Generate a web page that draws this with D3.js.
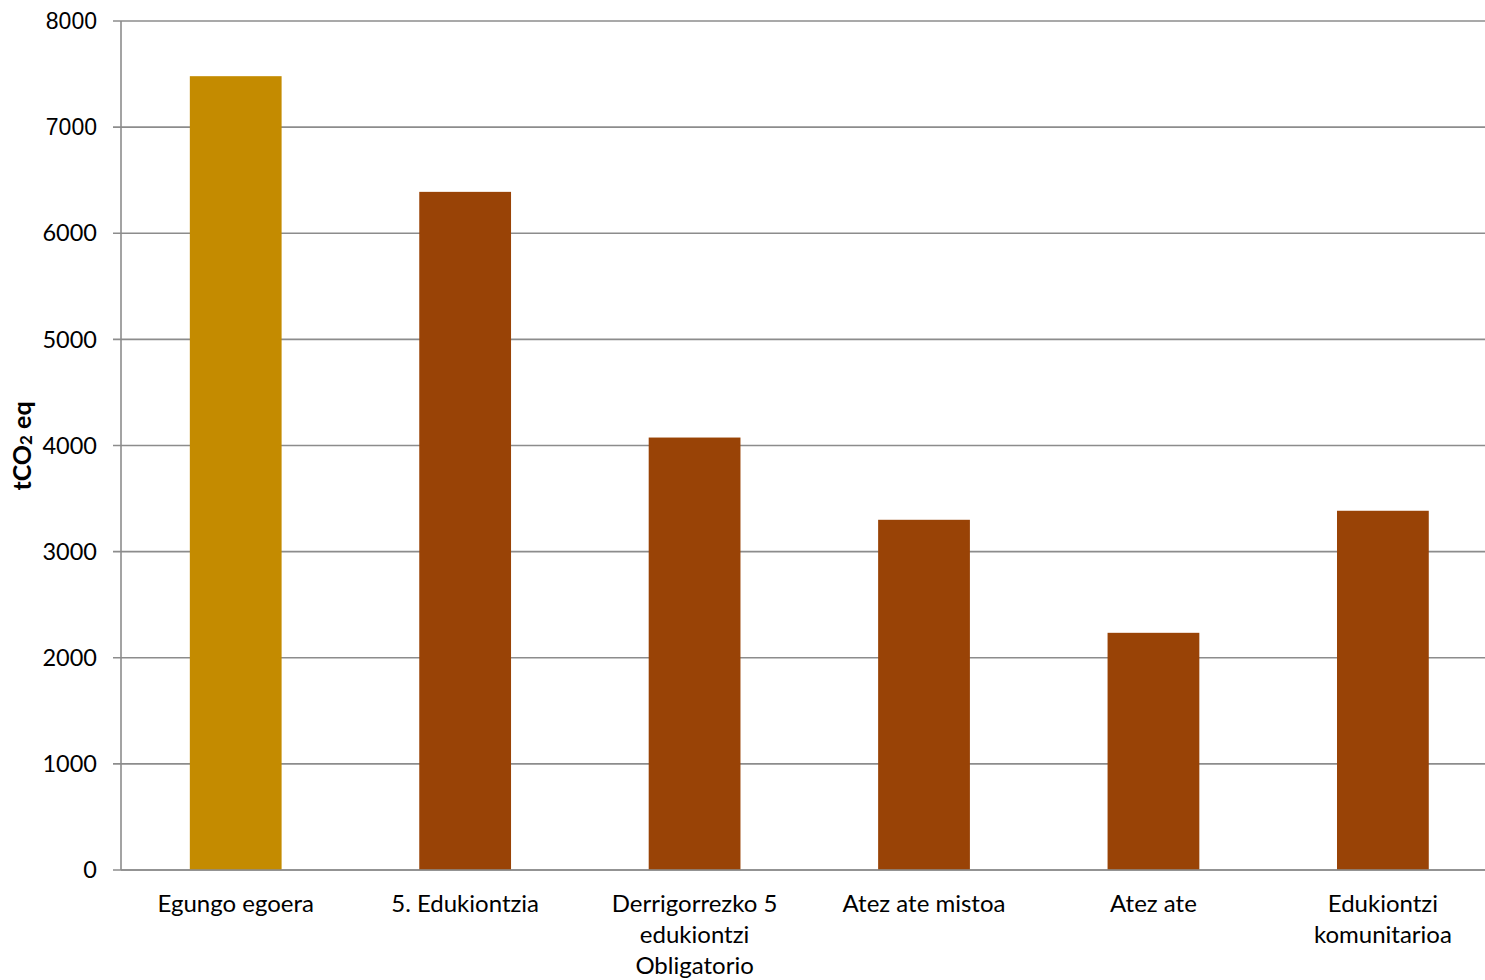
<!DOCTYPE html>
<html><head><meta charset="utf-8">
<script src="https://cdn.jsdelivr.net/npm/d3@7"></script>
<style>
body{margin:0;background:#fff;}
svg{display:block;}
</style></head>
<body>
<svg id="chart" width="1485" height="980"></svg>
<script>
const categories = [
  ["Egungo egoera"],
  ["5. Edukiontzia"],
  ["Derrigorrezko 5", "edukiontzi", "Obligatorio"],
  ["Atez ate mistoa"],
  ["Atez ate"],
  ["Edukiontzi", "komunitarioa"]
];
const values = [7480, 6390, 4075, 3300, 2235, 3385];
const barColors = ["#C48B00", "#994306", "#994306", "#994306", "#994306", "#994306"];
const yTicks = [0, 1000, 2000, 3000, 4000, 5000, 6000, 7000, 8000];
const yLabel = "tCO";

(function() {
const font = "'Lato', 'Open Sans', sans-serif";
const svg = d3.select("#chart");
const mLeft = 121, mRight = 1497.6, mTop = 21, mBottom = 870;

const x = d3.scaleBand().domain(d3.range(categories.length)).range([mLeft, mRight])
  .paddingInner(0.6).paddingOuter(0.3);
const y = d3.scaleLinear().domain([0, 8000]).range([mBottom, mTop]);

// gridlines
svg.append("g").selectAll("line").data(yTicks).join("line")
  .attr("x1", mLeft - 8).attr("x2", 1485)
  .attr("y1", d => y(d)).attr("y2", d => y(d))
  .attr("stroke", "#8c8c8c").attr("stroke-width", 1.6);

// bars
svg.append("g").selectAll("rect").data(values).join("rect")
  .attr("x", (d, i) => x(i)).attr("width", x.bandwidth())
  .attr("y", d => y(d)).attr("height", d => y(0) - y(d))
  .attr("fill", (d, i) => barColors[i]);

// axis lines
svg.append("line").attr("x1", mLeft).attr("x2", mLeft).attr("y1", mTop).attr("y2", mBottom)
  .attr("stroke", "#8c8c8c").attr("stroke-width", 1.6);
svg.append("line").attr("x1", mLeft).attr("x2", 1485).attr("y1", mBottom).attr("y2", mBottom)
  .attr("stroke", "#8c8c8c").attr("stroke-width", 1.6);

// y tick labels
svg.append("g").selectAll("text").data(yTicks).join("text")
  .attr("x", 97).attr("y", d => y(d)).attr("dy", "0.35em")
  .attr("text-anchor", "end")
  .style("font-family", d => d >= 7000 ? "'Liberation Sans', Arial, sans-serif" : font)
  .style("font-size", d => d >= 7000 ? "23px" : "23.5px").attr("fill", "#000")
  .text(d => d);

// x category labels
const xl = svg.append("g").selectAll("text").data(categories).join("text")
  .attr("text-anchor", "middle")
  .style("font-family", font).style("font-size", "24px").attr("fill", "#000");
xl.each(function(lines, i) {
  const t = d3.select(this);
  lines.forEach((ln, k) => {
    t.append("tspan").attr("x", x(i) + x.bandwidth() / 2).attr("y", 912 + k * 31).text(ln);
  });
});

// y axis title
const yt = svg.append("text")
  .attr("transform", "translate(31,446) rotate(-90)")
  .attr("text-anchor", "middle")
  .style("font-family", font).style("font-size", "25px").style("font-weight", "bold")
  .attr("fill", "#000");
yt.append("tspan").text(yLabel);
yt.append("tspan").attr("dy", 1).style("font-size", "17px").text("2");
yt.append("tspan").attr("dy", -1).text(" eq");
})();
</script>
</body></html>
